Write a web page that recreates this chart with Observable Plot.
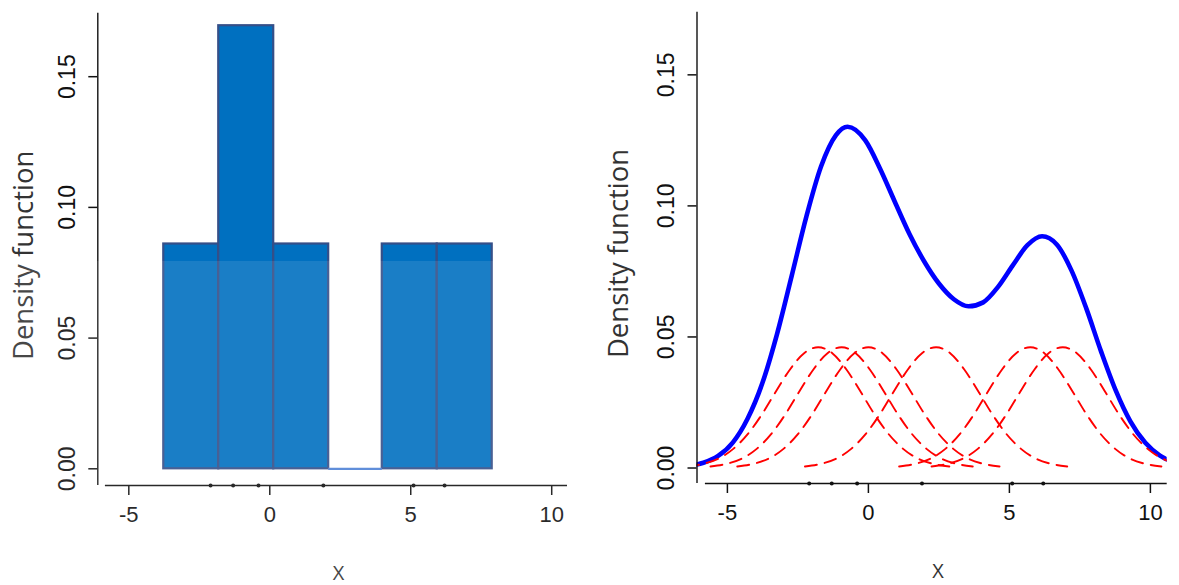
<!DOCTYPE html>
<html><head><meta charset="utf-8">
<script src="https://cdn.jsdelivr.net/npm/d3@7"></script>
<script src="https://cdn.jsdelivr.net/npm/@observablehq/plot@0.6"></script>
<style>
html,body{margin:0;padding:0;background:#fff;}
#wrap{position:relative;width:1179px;height:585px;display:flex;overflow:hidden;}
#left{width:590px;height:585px;}
#right{width:589px;height:585px;}
#wrap svg{display:block;}
#veil{position:absolute;left:0;top:261px;width:590px;height:324px;background:rgba(255,255,255,0.1);pointer-events:none;}
</style></head><body>
<div id="wrap"><div id="left"></div><div id="right"></div><div id="veil"></div></div>
<script>
// ---- data ----
const sampleValues = [-2.1, -1.3, -0.4, 1.9, 5.1, 6.2];            // rug points
const binEdges = [-3.76, -1.81, 0.14, 2.09, 3.99, 5.94, 7.89];       // histogram bin edges
const binDensity = [0.086, 0.1695, 0.086, 0, 0.086, 0.086];          // histogram densities
const kernelCenters = [-1.78, -0.95, 0.0, 2.4, 5.74, 6.89];          // red kernel centres
const kernelOffsets = [0, 0.5, 1, 1.5, 2, 2.5, 3, 3.5, 4, 4.65];     // half-profile of one kernel
const kernelHeights = [0.0461, 0.0438, 0.0376, 0.0292, 0.0204, 0.0129, 0.0074, 0.0038, 0.0018, 0.0006];
const kdeX = [-6.17, -5.85, -5.33, -4.81, -4.29, -3.76, -3.24, -2.72, -2.20, -1.68, -1.15, -0.74, -0.11, 0.41, 0.94, 1.46, 1.98, 2.50, 3.03, 3.55, 4.07, 4.59, 5.12, 5.64, 6.16, 6.68, 7.20, 7.73, 8.25, 8.77, 9.29, 9.82, 10.34, 10.86];
const kdeY = [0.0011, 0.0020, 0.0046, 0.0097, 0.0187, 0.0324, 0.0511, 0.0733, 0.0959, 0.1150, 0.1270, 0.1302, 0.1250, 0.1143, 0.1015, 0.0892, 0.0788, 0.0704, 0.0644, 0.0617, 0.0632, 0.0690, 0.0773, 0.0850, 0.0884, 0.0853, 0.0754, 0.0608, 0.0445, 0.0296, 0.0178, 0.0096, 0.0047, 0.0021];
const xTicks = [-5, 0, 5, 10];
const xTickLabels = ["-5", "0", "5", "10"];
const yTicks = [0, 0.05, 0.10, 0.15];
const yTickLabels = ["0.00", "0.05", "0.10", "0.15"];
const xLabel = "X";
const yLabel = "Density function";

// ---- derived tables ----
const bars = binDensity.map((h, i) => ({x1: binEdges[i], x2: binEdges[i + 1], h}));
const kernelRows = [];
kernelCenters.forEach((c, k) => {
  for (let j = kernelOffsets.length - 1; j > 0; --j) kernelRows.push({k, x: c - kernelOffsets[j], y: kernelHeights[j]});
  for (let j = 0; j < kernelOffsets.length; ++j) kernelRows.push({k, x: c + kernelOffsets[j], y: kernelHeights[j]});
});
const kde = kdeX.map((x, i) => ({x, y: kdeY[i]}));

const tickFont = "'Liberation Sans', Arial, Helvetica, sans-serif";
const labelFont = "'Open Sans', 'Noto Sans', sans-serif";
const ink = "#111";

function frameMarks(cfg) {
  return [
    Plot.ruleX([cfg.x[0]], {y1: cfg.y[0], y2: cfg.y[1], stroke: ink, strokeWidth: 1.4}),
    Plot.ruleY([cfg.y[0]], {x1: cfg.axisStart, x2: cfg.x[1], stroke: ink, strokeWidth: 1.4}),
    Plot.axisX(xTicks, {tickSize: 10, tickPadding: cfg.xPad, fontSize: 22, fontFamily: tickFont,
      tickFormat: d => xTickLabels[xTicks.indexOf(d)], label: null, strokeWidth: 1.5, color: ink}),
    Plot.axisY(yTicks, {tickSize: 9, tickFormat: () => "", label: null, strokeWidth: 1.5, color: ink}),
    Plot.text(yTicks, {y: d => d, text: (d, i) => yTickLabels[i], frameAnchor: "left", dx: cfg.yTickDx,
      rotate: -90, textAnchor: "middle", lineAnchor: "middle", fontSize: 23, fontFamily: tickFont, fill: ink}),
    Plot.dot(sampleValues, {x: d => d, frameAnchor: "bottom", r: 2, fill: ink, stroke: null}),
    Plot.text([yLabel], {text: d => d, frameAnchor: "left", dx: cfg.yLabDx, dy: cfg.yLabDy, rotate: -90,
      textAnchor: "middle", lineAnchor: "middle", fontSize: 27.5, fontFamily: labelFont, fill: "#333"}),
    Plot.text([xLabel], {text: d => d, frameAnchor: "bottom", dx: 6, dy: cfg.xLabDy, lineAnchor: "top",
      fontSize: 20, fontFamily: labelFont, fill: "#333"})
  ];
}

// ---- left: histogram ----
const Lcfg = {x: [-6.10, 10.56], y: [-0.00639, 0.17429], axisStart: -5.83, xPad: 11,
  yTickDx: -30.6, yLabDx: -73.3, yLabDy: 6, xLabDy: 80};
const left = Plot.plot({
  width: 590, height: 585,
  marginLeft: 97.3, marginRight: 23, marginTop: 12.7, marginBottom: 100,
  x: {domain: Lcfg.x}, y: {domain: Lcfg.y},
  marks: [
    Plot.rect(bars.filter(d => d.h > 0), {x1: "x1", x2: "x2", y1: () => 0, y2: "h",
      fill: "#0070C0", stroke: "#354f88", strokeWidth: 2.2}),
    Plot.ruleY(bars.filter(d => d.h === 0), {x1: "x1", x2: "x2", y: "h", stroke: "#4f82d6", strokeWidth: 2.2}),
    ...frameMarks(Lcfg)
  ]
});
document.getElementById("left").appendChild(left);

// ---- right: kernel density ----
const Rcfg = {x: [-6.078, 10.596], y: [-0.00591, 0.1739], axisStart: -5.78, xPad: 10.5,
  yTickDx: -30.7, yLabDx: -77.5, yLabDy: 5.6, xLabDy: 80};
const right = Plot.plot({
  width: 589, height: 585,
  marginLeft: 106.5, marginRight: 12.3, marginTop: 11.7, marginBottom: 102,
  x: {domain: Rcfg.x}, y: {domain: Rcfg.y},
  marks: [
    Plot.line(kde, {x: "x", y: "y", stroke: "#0000ff", strokeWidth: 4.6, curve: "monotone-x", clip: true}),
    Plot.line(kernelRows, {x: "x", y: "y", z: "k", stroke: "#ff0000", strokeWidth: 1.9,
      strokeDasharray: "12,8", curve: "monotone-x", clip: true}),
    ...frameMarks(Rcfg)
  ]
});
document.getElementById("right").appendChild(right);
</script>
</body></html>
